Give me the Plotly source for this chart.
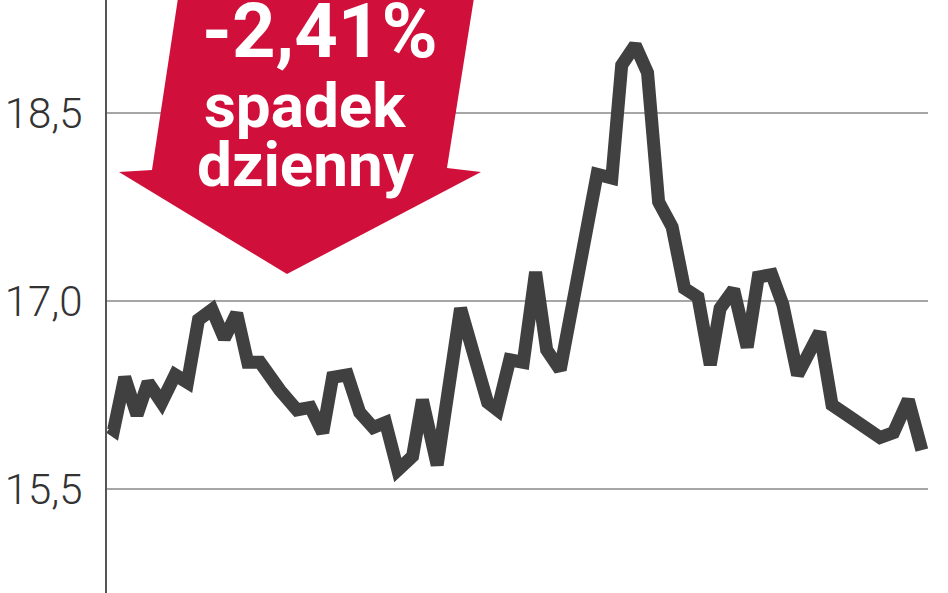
import plotly.graph_objects as go

# Day index (trading sessions) and closing values
days = [0, 0.3, 1.2, 2.2, 3.1, 4.2, 5.3, 6.3, 7.2, 8.3, 9.3, 10.3, 11.2, 12.2, 13.8,
        15.2, 16.3, 17.3, 18.1, 19.3, 20.3, 21.4, 22.4, 23.4, 24.6, 25.4, 26.6, 28.5,
        30.7, 31.5, 32.5, 33.6, 34.6, 35.5, 36.6, 38.5, 39.6, 40.8, 41.6, 42.7, 43.7,
        44.6, 45.7, 46.7, 47.8, 48.8, 49.6, 50.7, 51.8, 52.7, 53.8, 54.7, 55.9, 57.7,
        58.7, 59.9, 62.6, 63.7, 64.9, 66.0]
values = [15.99, 15.97, 16.39, 16.09, 16.35, 16.19, 16.41, 16.35, 16.85, 16.93, 16.70,
          16.90, 16.51, 16.51, 16.29, 16.13, 16.15, 15.95, 16.39, 16.41, 16.11, 15.99,
          16.03, 15.65, 15.76, 16.21, 15.69, 16.94, 16.19, 16.13, 16.53, 16.51, 17.23,
          16.61, 16.45, 17.43, 18.01, 17.98, 18.88, 19.04, 18.82, 17.79, 17.59, 17.10,
          17.03, 16.49, 16.94, 17.09, 16.63, 17.19, 17.21, 16.97, 16.41, 16.75, 16.17,
          16.09, 15.91, 15.95, 16.21, 15.81]

tick_vals = [15.5, 17.0, 18.5]
tick_text = ["15,5", "17,0", "18,5"]

badge_lines = ["-2,41%", "spadek", "dzienny"]

W, H = 948, 593
L, R, T, B = 107, 20, 0, 0
PW, PH = W - L - R, H - T - B


def px(x):
    return (x - L) / PW


def py(y):
    return 1 - (y - T) / PH


fig = go.Figure()
fig.add_trace(go.Scatter(
    x=days, y=values, mode="lines",
    line=dict(color="#404040", width=13),
    hoverinfo="skip", showlegend=False,
))

# red arrow badge
arrow_pts = [(178, -2), (474, -2), (447, 168), (481, 172), (287, 274), (119, 172), (152, 170)]
path = "M " + " L ".join(f"{px(x):.4f},{py(y):.4f}" for x, y in arrow_pts) + " Z"
fig.add_shape(type="path", path=path, xref="paper", yref="paper",
              fillcolor="#d0103a", line=dict(width=0), layer="above")

text_specs = [(badge_lines[0], 320, 31, 76), (badge_lines[1], 305, 106, 62), (badge_lines[2], 306, 164, 62)]
for txt, x, y, size in text_specs:
    fig.add_annotation(text=txt, x=px(x), y=py(y), xref="paper", yref="paper",
                       showarrow=False, xanchor="center", yanchor="middle",
                       font=dict(family="Roboto", size=size, color="white", weight=700))

fig.update_layout(
    width=W, height=H,
    margin=dict(l=L, r=R, t=T, b=B, autoexpand=False),
    paper_bgcolor="white", plot_bgcolor="white",
    xaxis=dict(range=[-0.24, 66.5], showgrid=False, zeroline=False,
               showticklabels=False, showline=False, fixedrange=True),
    yaxis=dict(range=[14.67, 19.40], tickvals=tick_vals, ticktext=tick_text,
               showgrid=True, gridcolor="#a6a6a6", gridwidth=2,
               zeroline=False, showline=True, linecolor="#555555", linewidth=2,
               ticks="outside", ticklen=0, ticklabelstandoff=14,
               tickfont=dict(family="Roboto", size=42, color="#333333", weight=300)),
)

fig.write_html("out.html", config={"displayModeBar": False},
               post_script="document.body.style.margin='0';document.body.style.overflow='hidden';")
